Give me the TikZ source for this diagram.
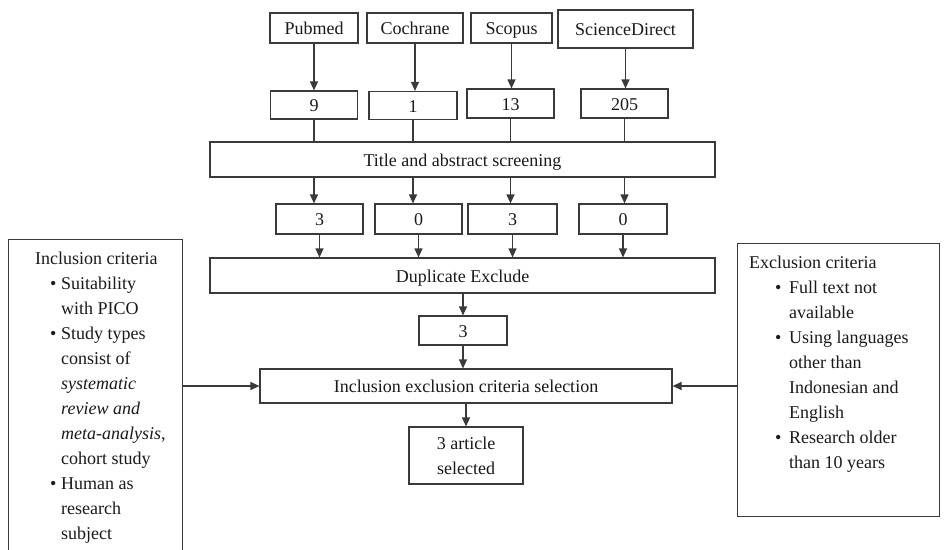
\documentclass[tikz,border=0pt]{standalone}
\usepackage{fontspec}
\setmainfont{Liberation Serif}
\usetikzlibrary{arrows.meta,calc}
\definecolor{linecol}{HTML}{3A3A3A}
\definecolor{txtcol}{HTML}{1A1A1A}
\tikzset{
  box/.style={draw=linecol, line width=1.2pt, inner sep=0pt, text=txtcol,
    font=\fontsize{18}{25}\selectfont, align=center},
  onel/.style={text height=17pt, text depth=4pt},
  crit/.style={draw=linecol, line width=1.2pt, inner sep=0pt, anchor=north west},
  crittext/.style={inner sep=0pt, text=txtcol, font=\fontsize{18}{25}\selectfont,
    align=left, anchor=north west},
  arr/.style={draw=linecol, line width=1.2pt, -{Triangle[length=9pt,width=8pt]}},
  ln/.style={draw=linecol, line width=1.2pt},
}
\newcommand{\bul}{\makebox[11pt][l]{\textbullet}}
\newcommand{\bulR}{\makebox[14pt][l]{\textbullet}}
\begin{document}
\begin{tikzpicture}[x=1pt,y=1pt]
\useasboundingbox (0,0) rectangle (944,-549);
\clip (0,0) rectangle (944,-549);
\fill[white] (0,0) rectangle (944,-549);
% sources
\node[box, onel, minimum width=88pt, minimum height=30pt] (pub) at (314,-28) {Pubmed};
\node[box, onel, minimum width=96pt, minimum height=30pt] (coch) at (415,-28) {Cochrane};
\node[box, onel, minimum width=81pt, minimum height=30pt] (scop) at (511.5,-28) {Scopus};
\node[box, onel, minimum width=135pt, minimum height=38pt] (sd) at (625.5,-29) {ScienceDirect};
% counts
\node[box, onel, minimum width=87pt, minimum height=28pt] (n9) at (314,-105) {9};
\node[box, onel, minimum width=88pt, minimum height=28pt] (n1) at (413,-105.5) {1};
\node[box, onel, minimum width=87pt, minimum height=29pt] (n13) at (510.5,-103.5) {13};
\node[box, onel, minimum width=87pt, minimum height=29pt] (n205) at (624.5,-103.5) {205};
% screening
\node[box, onel, minimum width=505pt, minimum height=35pt] (title) at (462.5,-159.5) {Title and abstract screening};
% after screening
\node[box, onel, minimum width=87pt, minimum height=30pt] (r3a) at (319.5,-219) {3};
\node[box, onel, minimum width=87pt, minimum height=30pt] (r0a) at (418.5,-219) {0};
\node[box, onel, minimum width=89pt, minimum height=30pt] (r3b) at (512.5,-219) {3};
\node[box, onel, minimum width=88pt, minimum height=30pt] (r0b) at (623,-219) {0};
% duplicates
\node[box, onel, minimum width=505pt, minimum height=35pt] (dup) at (462.5,-275.5) {Duplicate Exclude};
\node[box, onel, minimum width=88pt, minimum height=29pt] (n3) at (463,-330.5) {3};
\node[box, onel, minimum width=412pt, minimum height=34pt] (sel) at (466,-386) {Inclusion exclusion criteria selection};
\node[box, minimum width=114pt, minimum height=57pt] (fin) at (466,-455.5) {3 article\\selected};
% criteria boxes
\node[crit, minimum width=174pt, minimum height=320pt] (inc) at (8,-239) {};
\node[crittext] (inctext) at (35,-252) {Inclusion criteria\\
\hspace*{15pt}\bul Suitability\\
\hspace*{26pt}with PICO\\
\hspace*{15pt}\bul Study types\\
\hspace*{26pt}consist of\\
\hspace*{26pt}\textit{systematic}\\
\hspace*{26pt}\textit{review and}\\
\hspace*{26pt}\textit{meta-analysis},\\
\hspace*{26pt}cohort study\\
\hspace*{15pt}\bul Human as\\
\hspace*{26pt}research\\
\hspace*{26pt}subject};
\node[crit, minimum width=202pt, minimum height=273pt] (exc) at (737,-243) {};
\node[crittext] (exctext) at (749,-256) {Exclusion criteria\\
\hspace*{26pt}\bulR Full text not\\
\hspace*{40pt}available\\
\hspace*{26pt}\bulR Using languages\\
\hspace*{40pt}other than\\
\hspace*{40pt}Indonesian and\\
\hspace*{40pt}English\\
\hspace*{26pt}\bulR Research older\\
\hspace*{40pt}than 10 years};
% connectors
\foreach \s/\n in {pub/n9, coch/n1, scop/n13, sd/n205}{
  \draw[arr] (\s.south) -- (\s.south |- \n.north);
}
\foreach \n/\r in {n9/r3a, n1/r0a, n13/r3b, n205/r0b}{
  \draw[ln] (\n.south) -- (\n.south |- title.north);
  \draw[arr] (\n.south |- title.south) -- (\n.south |- \r.north);
}
\foreach \r in {r3a, r0a, r3b, r0b}{
  \draw[arr] (\r.south) -- (\r.south |- dup.north);
}
\draw[arr] (n3.north |- dup.south) -- (n3.north);
\draw[arr] (n3.south) -- (n3.south |- sel.north);
\draw[arr] (sel.south) -- (fin.north);
\draw[arr] (sel.west -| inc.east) -- (sel.west);
\draw[arr] (sel.east -| exc.west) -- (sel.east);
\end{tikzpicture}
\end{document}
